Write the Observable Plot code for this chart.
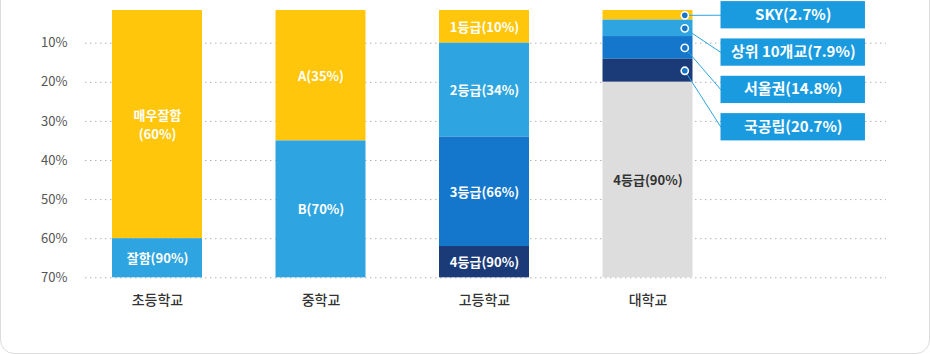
<!DOCTYPE html>
<html>
<head>
<meta charset="utf-8">
<script src="https://cdn.jsdelivr.net/npm/d3@7"></script>
<script src="https://cdn.jsdelivr.net/npm/@observablehq/plot@0.6"></script>
<style>
  html, body { margin: 0; padding: 0; background: #fff; }
  #wrap { position: relative; width: 930px; height: 354px; overflow: hidden; }
  #card { position: absolute; left: 0; top: -20px; width: 930px; height: 374px; box-sizing: border-box;
          border: 1px solid #dcdcdc; border-radius: 14px; }
  #chart { position: absolute; left: 0; top: 0; }
</style>
</head>
<body>
<div id="wrap"><div id="card"></div><div id="chart"></div></div>
<script>
// ---- data (bar boundaries in axis-% units) ----
const schools = ["초등학교", "중학교", "고등학교", "대학교"];
const barTop = 1.65;
const segSchool = [0, 0, 1, 1, 2, 2, 2, 2, 3, 3, 3, 3, 3];
const segEnd    = [60, 70, 35, 70, 10, 34, 62, 70, 4.1, 8.3, 14.1, 20, 70];
const segLabel  = ["매우잘함\n(60%)", "잘함(90%)", "A(35%)", "B(70%)",
                   "1등급(10%)", "2등급(34%)", "3등급(66%)", "4등급(90%)",
                   "", "", "", "", "4등급(90%)"];
const segTier   = ["t1", "t2", "t1", "t2", "t1", "t2", "t3", "t4", "t1", "t2", "t3", "t4", "rest"];
const calloutLabels = ["SKY(2.7%)", "상위 10개교(7.9%)", "서울권(14.8%)", "국공립(20.7%)"];
const yTicks = [10, 20, 30, 40, 50, 60, 70];

// ---- styles ----
const palette = {t1: "#ffc60b", t2: "#2ea5e0", t3: "#1477cc", t4: "#1b3a78", rest: "#dddddd"};

// ---- build rows ----
const segs = segSchool.map((s, k) => {
  const prev = k > 0 && segSchool[k - 1] === s ? segEnd[k - 1] : barTop;
  return {i: s, start: prev, end: segEnd[k], label: segLabel[k], tier: segTier[k]};
});
const uniSegs = segs.filter(d => d.i === 3 && d.tier !== "rest");
const callouts = calloutLabels.map((label, k) => ({
  label,
  cy: (uniSegs[k].start + uniSegs[k].end) / 2,
  by: 2.85 + k * 9.55
}));
const half = 0.2752;
const dotX = 3.225, boxL = 3.4465, boxR = 4.33, boxH = 3.49;

const chart = Plot.plot({
  width: 930, height: 354,
  marginLeft: 85, marginRight: 44, marginTop: 3.6, marginBottom: 76.7,
  style: {fontFamily: "'Noto Sans CJK KR', 'Noto Sans', sans-serif", background: "transparent", overflow: "visible"},
  x: {type: "linear", domain: [0, 3], range: [157, 647.5], axis: null},
  y: {domain: [0, 70], range: [3.6, 277.3], axis: null},
  marks: [
    Plot.ruleY(yTicks, {stroke: "#b3b3b3", strokeDasharray: "1.5,3.5"}),
    Plot.rect(segs, {x1: d => d.i - half, x2: d => d.i + half, y1: "start", y2: "end",
                     fill: d => palette[d.tier]}),
    Plot.text(segs.filter(d => d.label), {x: "i", y: d => (d.start + d.end) / 2, text: "label",
                     fill: d => d.tier === "rest" ? "#333" : "#fff", fontWeight: "bold",
                     fontSize: 13, lineHeight: 1.4, dy: -1}),
    Plot.axisY(yTicks, {tickSize: 0, tickPadding: 18, tickFormat: d => d + "%",
                        fontSize: 13, fill: "#555", label: null}),
    Plot.axisX([0, 1, 2, 3], {tickSize: 0, tickPadding: 17, tickFormat: i => schools[i],
                        fontSize: 14, fontWeight: 500, fill: "#333", label: null}),
    Plot.link(callouts, {x1: dotX, y1: "cy", x2: boxL, y2: "by", stroke: "#2ea5e0", strokeWidth: 1}),
    Plot.rect(callouts, {x1: boxL, x2: boxR, y1: d => d.by - boxH, y2: d => d.by + boxH, fill: "#1a9be0"}),
    Plot.text(callouts, {x: (boxL + boxR) / 2, y: "by", text: "label", fill: "#fff",
                         fontWeight: "bold", fontSize: 15, dy: -0.5}),
    Plot.dot(callouts, {x: dotX, y: "cy", r: 3.6, fill: "#1577c9", stroke: "#fff", strokeWidth: 1.6})
  ]
});
document.getElementById("chart").appendChild(chart);
</script>
</body>
</html>
